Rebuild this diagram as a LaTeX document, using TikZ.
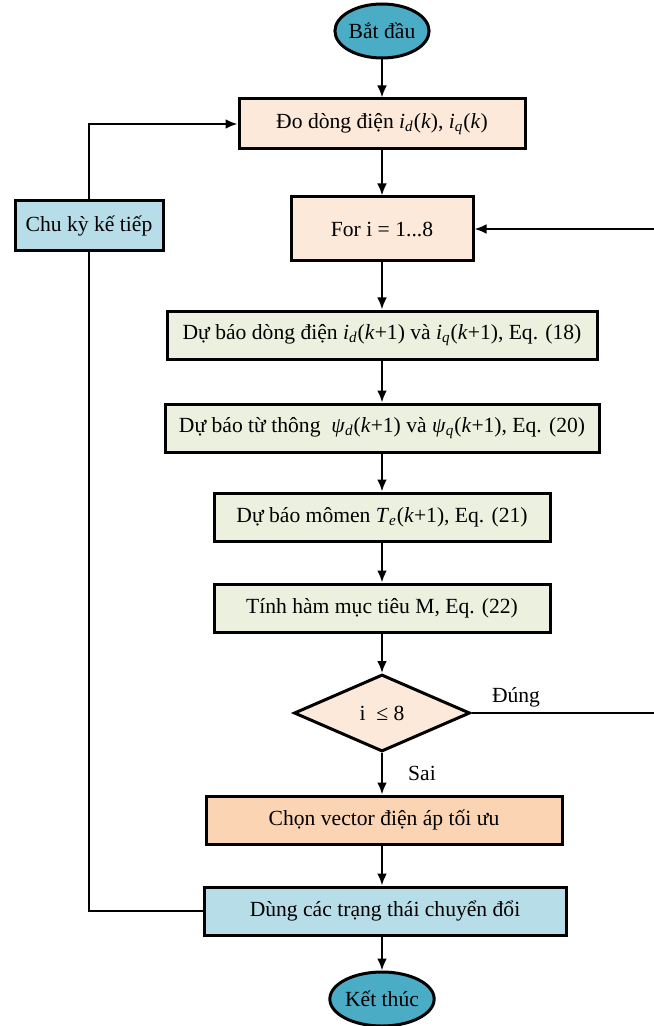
\documentclass[tikz,border=0pt]{standalone}
\usepackage{fontspec}
\setmainfont{Liberation Serif}
\usetikzlibrary{arrows.meta,positioning,shapes.geometric}
\definecolor{termcol}{HTML}{4BACC6}
\definecolor{peach}{HTML}{FDE9D9}
\definecolor{sage}{HTML}{EBF1DE}
\definecolor{apricot}{HTML}{FBD4B4}
\definecolor{paleblue}{HTML}{B7DEE8}
\newcommand{\vi}[2]{\textit{#1}\textsubscript{\textit{#2}}}

\begin{document}
\begin{tikzpicture}[x=0.5pt,y=-0.5pt,font=\fontsize{10.8}{12.5}\selectfont,
  box/.style={draw, line width=1.5pt, inner sep=2pt},
  term/.style={ellipse, draw, line width=1.5pt, fill=termcol, minimum width=46pt, minimum height=27pt, inner sep=0pt},
  arr/.style={-{Latex[length=6pt,width=5pt]}, line width=1.4pt}]
\useasboundingbox (0,0) rectangle (653,1026);
\node[term] (start) at (382,31) {Bắt đầu};
\node[box, fill=peach, minimum width=143pt, minimum height=25pt] (meas) at (382,124) {Đo dòng điện \vi{i}{d}(\textit{k}), \vi{i}{q}(\textit{k})};
\node[box, fill=peach, minimum width=91pt, minimum height=32pt] (loop) at (382,229) {For i = 1...8};
\node[box, fill=sage, minimum width=215pt, minimum height=24pt] (pcur) at (382,335) {Dự báo dòng điện \vi{i}{d}(\textit{k}+1) và \vi{i}{q}(\textit{k}+1), Eq. (18)};
\node[box, fill=sage, minimum width=217pt, minimum height=24pt] (pflux) at (382,428) {Dự báo từ thông\ \ \vi{ψ}{d}(\textit{k}+1) và \vi{ψ}{q}(\textit{k}+1), Eq. (20)};
\node[box, fill=sage, minimum width=168pt, minimum height=24pt] (ptorq) at (382,517) {Dự báo mômen \vi{T}{e}(\textit{k}+1), Eq. (21)};
\node[box, fill=sage, minimum width=168pt, minimum height=24pt] (cost) at (382,608) {Tính hàm mục tiêu M, Eq. (22)};
\node[diamond, draw, line width=1.5pt, fill=peach, aspect=2.27, minimum width=88pt, minimum height=38.5pt, inner sep=0pt] (cond) at (382,713) {i\ \ ≤ 8};
\node[box, fill=apricot, minimum width=178pt, minimum height=24pt] (best) at (384,820) {Chọn vector điện áp tối ưu};
\node[box, fill=paleblue, minimum width=181pt, minimum height=24pt] (use) at (385,911) {Dùng các trạng thái chuyển đổi};
\node[term] (stop) at (382,999) {Kết thúc};
\node[box, fill=paleblue, minimum width=74pt, minimum height=25pt] (next) at (89,226) {Chu kỳ kế tiếp};
\coordinate (rt) at (660,713);
\node (yes) at (516,697) {Đúng};
\node (no) at (422,773) {Sai};

\draw[arr] (start) -- (meas);
\draw[arr] (meas) -- (loop);
\draw[arr] (loop) -- (pcur);
\draw[arr] (pcur) -- (pflux);
\draw[arr] (pflux) -- (ptorq);
\draw[arr] (ptorq) -- (cost);
\draw[arr] (cost) -- (cond);
\draw[arr] (cond.south) -- (cond.south |- best.north);
\draw[arr] (best.south -| stop.north) -- (stop.north |- use.north);
\draw[arr] (use.south -| stop.north) -- (stop.north);
\draw[arr] (cond.east) -- (rt) |- (loop.east);
\draw[line width=1.4pt] (use.west) -| (next.south);
\draw[arr] (next.north) |- (meas.west);
\end{tikzpicture}
\end{document}
